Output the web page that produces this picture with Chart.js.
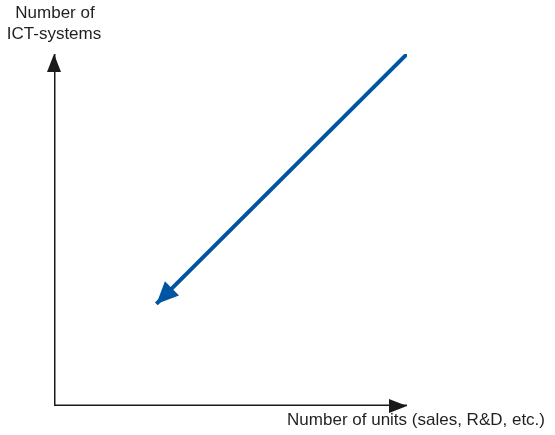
<!DOCTYPE html>
<html>
<head>
<meta charset="utf-8">
<script src="https://cdn.jsdelivr.net/npm/chart.js@4"></script>
<style>
  html, body { margin: 0; padding: 0; background: #fff; }
  #wrap { width: 555px; height: 435px; }
</style>
</head>
<body>
<div id="wrap"><canvas id="chart"></canvas></div>
<script>
// axis frame (L shape: x-axis end -> origin -> y-axis end)
const axisX = [100, 0, 0];
const axisY = [0, 0, 100];
// blue trend arrow, from top-right down to lower-left
const arrowX = [100, 29];
const arrowY = [100, 29];
const yTitle = ['Number of', 'ICT-systems'];
const xTitle = 'Number of units (sales, R&D, etc.)';

const toPts = (xs, ys) => xs.map((x, i) => ({ x: x, y: ys[i] }));

// draws a filled triangle head at dataset ends
const arrowHeads = {
  id: 'arrowHeads',
  afterDatasetsDraw(chart) {
    const ctx = chart.ctx;
    chart.data.datasets.forEach((ds, i) => {
      const pts = chart.getDatasetMeta(i).data;
      const heads = ds.heads || [];
      heads.forEach(h => {
        const tip = h === 'end' ? pts[pts.length - 1] : pts[0];
        const prev = h === 'end' ? pts[pts.length - 2] : pts[1];
        const ang = Math.atan2(tip.y - prev.y, tip.x - prev.x);
        const len = ds.headLen, half = ds.headHalf;
        ctx.save();
        ctx.translate(tip.x, tip.y);
        ctx.rotate(ang);
        ctx.beginPath();
        ctx.moveTo(0, 0);
        ctx.lineTo(-len, -half);
        ctx.lineTo(-len, half);
        ctx.closePath();
        ctx.fillStyle = ds.borderColor;
        ctx.fill();
        ctx.restore();
      });
    });
  }
};

const labels = {
  id: 'labels',
  afterDraw(chart) {
    const ctx = chart.ctx;
    ctx.save();
    ctx.fillStyle = '#231f20';
    ctx.font = '17px "Liberation Sans", Arial, sans-serif';
    ctx.textAlign = 'center';
    ctx.textBaseline = 'alphabetic';
    ctx.fillText(yTitle[0], 55, 18);
    ctx.fillText(yTitle[1], 54, 39);
    ctx.textAlign = 'right';
    ctx.fillText(xTitle, 545, 425);
    ctx.restore();
  }
};

new Chart(document.getElementById('chart'), {
  type: 'scatter',
  data: {
    datasets: [
      { data: toPts(axisX, axisY), showLine: true, borderColor: '#1a1a1a', borderWidth: 3,
        pointRadius: 0, borderJoinStyle: 'miter', heads: ['start', 'end'], headLen: 18, headHalf: 7 },
      { data: toPts(arrowX, arrowY), showLine: true, borderColor: '#0055a2', borderWidth: 4,
        pointRadius: 0, heads: ['end'], headLen: 22, headHalf: 10 }
    ]
  },
  options: {
    responsive: true,
    maintainAspectRatio: false,
    animation: false,
    layout: { padding: { left: 54, right: 148, top: 54, bottom: 29 } },
    plugins: { legend: { display: false }, tooltip: { enabled: false } },
    scales: {
      x: { display: false, min: 0, max: 100 },
      y: { display: false, min: 0, max: 100 }
    }
  },
  plugins: [arrowHeads, labels]
});
</script>
</body>
</html>
